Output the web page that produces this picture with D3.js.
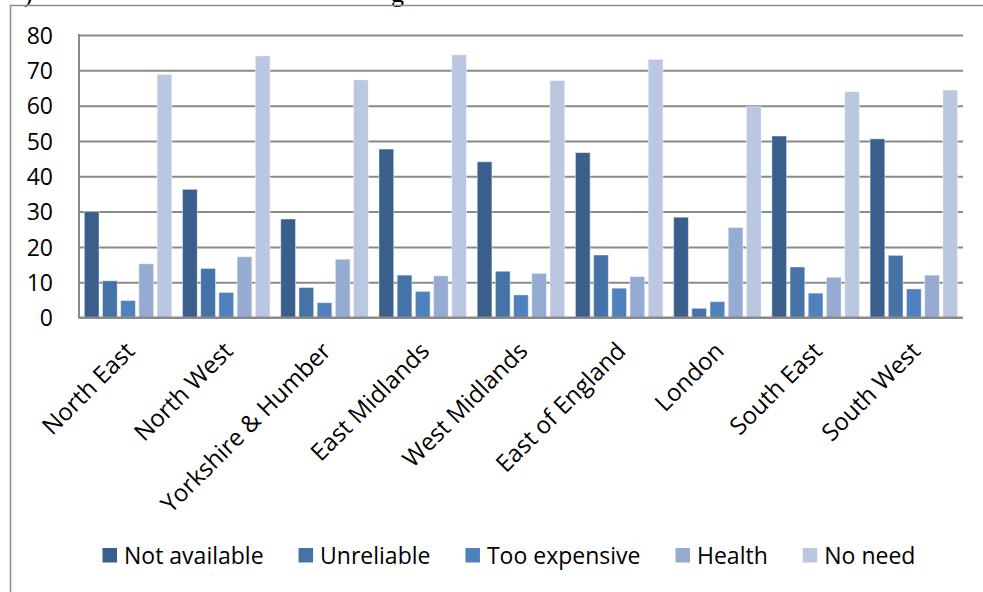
<!DOCTYPE html>
<html>
<head>
<meta charset="utf-8">
<script src="https://cdn.jsdelivr.net/npm/d3@7/dist/d3.min.js"></script>
<style>
  html, body { margin: 0; padding: 0; background: #fff; }
  svg { display: block; }
  text { font-family: "Open Sans", Lato, sans-serif; fill: #000; }
</style>
</head>
<body>
<svg id="chart" width="983" height="592"></svg>
<script>
// ---- Data ----
const categories = ["North East", "North West", "Yorkshire & Humber", "East Midlands",
  "West Midlands", "East of England", "London", "South East", "South West"];
const series = ["Not available", "Unreliable", "Too expensive", "Health", "No need"];
const notAvailable = [30.0, 36.3, 27.9, 47.7, 44.1, 46.7, 28.4, 51.4, 50.6];
const unreliable   = [10.4, 13.9, 8.5, 12.0, 13.1, 17.7, 2.6, 14.3, 17.6];
const tooExpensive = [4.8, 7.1, 4.2, 7.4, 6.4, 8.3, 4.5, 6.9, 8.1];
const health       = [15.2, 17.2, 16.5, 11.8, 12.5, 11.6, 25.5, 11.4, 12.0];
const noNeed       = [68.8, 74.1, 67.3, 74.4, 67.1, 73.1, 59.7, 64.0, 64.4];
const yTicks = [0, 10, 20, 30, 40, 50, 60, 70, 80];

const seriesValues = [notAvailable, unreliable, tooExpensive, health, noNeed];
const colors = ["#3A5F8C", "#4572A7", "#4F81BD", "#95ABD2", "#B9C7E1"];

// ---- Layout ----
const svg = d3.select("#chart");
const plot = { left: 79, right: 963, top: 35, bottom: 317.5 };
const FONT = "'Open Sans', Lato, sans-serif";

// clipped text fragment above the frame
svg.append("text").attr("x", 24).attr("y", 1.5)
  .style("font-family", "'Liberation Serif', serif").style("font-size", "26px").text(")");
svg.append("text").attr("x", 391).attr("y", 1.5)
  .style("font-family", "'Liberation Serif', serif").style("font-size", "26px").text("g");

// outer frame
svg.append("path")
  .attr("d", `M10.5,600 L10.5,5.5 L990,5.5`)
  .attr("fill", "none").attr("stroke", "#8c8c8c").attr("stroke-width", 1.5);

const y = d3.scaleLinear().domain([0, 80]).range([plot.bottom, plot.top]);
const x0 = d3.scaleBand().domain(categories).range([plot.left, plot.right]).padding(0);
const x1 = d3.scaleBand().domain(series).range([5.3, x0.bandwidth() - 5.4]).paddingInner(0.19).paddingOuter(0);
const color = d3.scaleOrdinal().domain(series).range(colors);

// gridlines
const yAxis = d3.axisLeft(y).tickValues(yTicks).tickSize(-(plot.right - plot.left)).tickFormat(d => d);
const gy = svg.append("g").attr("transform", `translate(${plot.left},0)`).call(yAxis);
gy.select(".domain").remove();
gy.selectAll(".tick line").attr("stroke", "#8a8a8a").attr("stroke-width", 2);
gy.selectAll(".tick text")
  .attr("x", -26).attr("dy", "0.36em")
  .style("font-family", FONT).style("font-size", "23px").attr("fill", "#000");

// left axis line
svg.append("line")
  .attr("x1", plot.left).attr("x2", plot.left)
  .attr("y1", plot.top - 1).attr("y2", plot.bottom + 1)
  .attr("stroke", "#8a8a8a").attr("stroke-width", 2);

// bars
const groups = svg.append("g").selectAll("g")
  .data(categories).join("g")
  .attr("transform", d => `translate(${x0(d)},0)`);

groups.selectAll("rect")
  .data((c, i) => series.map((s, j) => ({ s, v: seriesValues[j][i] })))
  .join("rect")
  .attr("x", d => x1(d.s))
  .attr("width", x1.bandwidth())
  .attr("y", d => y(d.v))
  .attr("height", d => y(0) - y(d.v))
  .attr("fill", d => color(d.s))
  .attr("stroke", "rgba(255,255,255,0.45)")
  .attr("stroke-width", 1);

// baseline on top of bars
svg.append("line")
  .attr("x1", plot.left).attr("x2", plot.right)
  .attr("y1", plot.bottom).attr("y2", plot.bottom)
  .attr("stroke", "#8a8a8a").attr("stroke-width", 2);

// x labels
const xAxis = d3.axisBottom(x0).tickSize(0);
const gx = svg.append("g").attr("transform", `translate(0,${plot.bottom})`).call(xAxis);
gx.select(".domain").remove();
gx.selectAll(".tick text")
  .attr("text-anchor", "end")
  .attr("transform", "translate(8,35) rotate(-45)")
  .attr("x", 0).attr("y", 0).attr("dy", 0)
  .style("font-family", FONT).style("font-size", "24px").attr("fill", "#000");

// legend
const legend = svg.append("g").attr("class", "legend");
let lx = 102.5;
series.forEach((s, i) => {
  const g = legend.append("g").attr("transform", `translate(${lx},0)`);
  g.append("rect").attr("x", 0).attr("y", 548).attr("width", 14.5).attr("height", 14.5).attr("fill", colors[i]);
  const t = g.append("text").attr("x", 21.5).attr("y", 563.5)
    .style("font-family", FONT).style("font-size", "23px").text(s);
  lx += 21.5 + t.node().getComputedTextLength() + 35;
});
</script>
</body>
</html>
